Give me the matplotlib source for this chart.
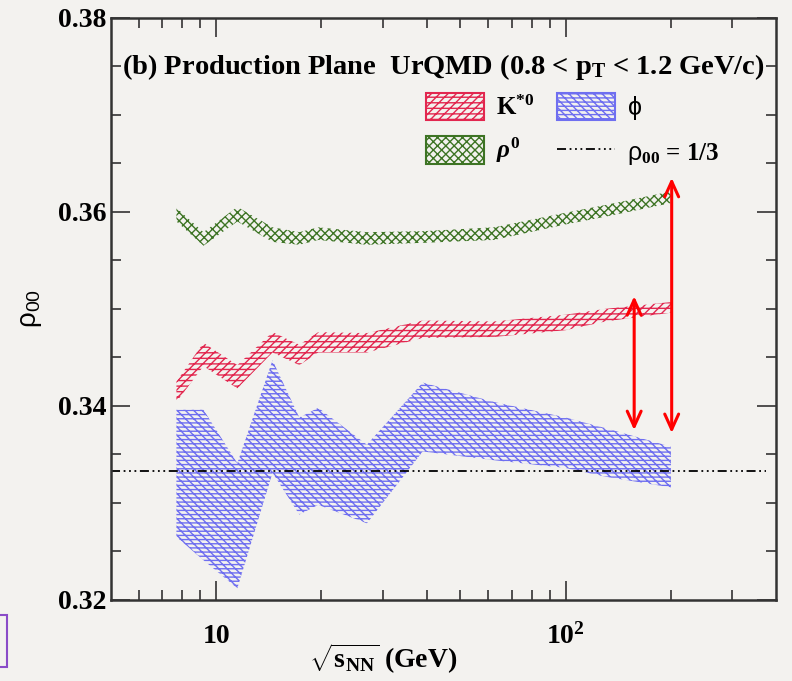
import numpy as np
import matplotlib
matplotlib.use("Agg")
import matplotlib.pyplot as plt
from matplotlib.patches import Patch, Rectangle
from matplotlib.lines import Line2D
from matplotlib.ticker import FixedLocator, FixedFormatter, NullFormatter

plt.rcParams['font.family'] = ['Liberation Serif', 'DejaVu Serif']
plt.rcParams['font.weight'] = 'bold'
plt.rcParams['mathtext.fontset'] = 'custom'
plt.rcParams['mathtext.rm'] = 'Liberation Serif:bold'
plt.rcParams['mathtext.bf'] = 'Liberation Serif:bold'
plt.rcParams['mathtext.it'] = 'Liberation Serif:italic:bold'
plt.rcParams['mathtext.sf'] = 'Liberation Sans:normal'
plt.rcParams['hatch.linewidth'] = 1.0

# UrQMD energies (GeV)
energy = [7.7, 9.2, 11.5, 14.5, 17.3, 19.6, 27, 39, 62.4, 100, 130, 200]

# rho_00 bands (upper / lower edge)
kstar_hi = [0.3425, 0.3465, 0.3442, 0.3476, 0.3463, 0.3476, 0.3475, 0.3488, 0.3487, 0.3494, 0.3500, 0.3507]
kstar_lo = [0.3404, 0.3441, 0.3418, 0.3455, 0.3442, 0.3455, 0.3455, 0.3470, 0.3471, 0.3478, 0.3487, 0.3496]

phi_hi = [0.3396, 0.3396, 0.3341, 0.3447, 0.3388, 0.3398, 0.3360, 0.3424, 0.3404, 0.3388, 0.3377, 0.3358]
phi_lo = [0.3265, 0.3241, 0.3212, 0.3331, 0.3288, 0.3298, 0.3279, 0.3353, 0.3344, 0.3336, 0.3327, 0.3316]

rho_hi = [0.3604, 0.3579, 0.3605, 0.3584, 0.3579, 0.3584, 0.3579, 0.3580, 0.3584, 0.3599, 0.3607, 0.3621]
rho_lo = [0.3590, 0.3565, 0.3590, 0.3569, 0.3566, 0.3571, 0.3566, 0.3568, 0.3571, 0.3587, 0.3595, 0.3609]

unpolarized = 1 / 3

# difference arrows: (energy, top, bottom)
arrow_kstar = (157, 0.3513, 0.3375)
arrow_rho = (201, 0.3635, 0.3372)

c_red = '#e2274f'
c_blue = '#6f6ff0'
c_green = '#3d7424'
bg = '#f3f2ef'
dashdot = (5, 2, 1, 2, 1, 2, 1, 2)

fig = plt.figure(figsize=(7.92, 6.81), dpi=100, facecolor=bg)
ax = fig.add_axes([0.140, 0.119, 0.840, 0.855])
ax.set_facecolor(bg)

ax.fill_between(energy, kstar_lo, kstar_hi, facecolor='none', edgecolor=c_red,
                hatch='////---', linewidth=0)
ax.fill_between(energy, rho_lo, rho_hi, facecolor='none', edgecolor=c_green,
                hatch='xxxx', linewidth=0)
ax.fill_between(energy, phi_lo, phi_hi, facecolor='none', edgecolor=c_blue,
                hatch='\\\\\\\\----', linewidth=0)

ax.axhline(unpolarized, xmin=0, xmax=0.985, color='black', lw=1.3, dashes=dashdot)

for xa, top, bot in (arrow_kstar, arrow_rho):
    ax.annotate('', xy=(xa, top), xytext=(xa, bot),
                arrowprops=dict(arrowstyle='<->,head_length=1.1,head_width=0.5',
                                color='red', lw=2.2, shrinkA=0, shrinkB=0))

ax.set_xscale('log')
ax.set_xlim(5, 400)
ax.set_ylim(0.32, 0.38)

ax.xaxis.set_major_locator(FixedLocator([10, 100]))
ax.xaxis.set_major_formatter(FixedFormatter(['10', r'$10^{2}$']))
ax.xaxis.set_minor_locator(FixedLocator([6, 7, 8, 9, 20, 30, 40, 50, 60, 70, 80, 90, 200, 300]))
ax.xaxis.set_minor_formatter(NullFormatter())
ax.set_yticks([0.32, 0.34, 0.36, 0.38])
ax.set_yticklabels(['0.32', '0.34', '0.36', '0.38'])
ax.set_yticks(np.arange(0.32, 0.38, 0.005), minor=True)

ax.tick_params(which='both', direction='in', top=True, right=True,
               width=1.2, color='#333333', labelsize=20)
ax.tick_params(which='major', length=14)
ax.tick_params(which='minor', length=7)
ax.tick_params(axis='x', pad=17)
ax.tick_params(axis='y', pad=3)
for s in ax.spines.values():
    s.set_linewidth(1.8)
    s.set_color('#333333')

ax.set_xlabel(r'$\sqrt{\mathrm{s_{NN}}}$ (GeV)', fontsize=20, fontweight='bold')
ax.xaxis.set_label_coords(0.41, -0.072)
ax.set_ylabel(r'$\mathsf{\rho_{00}}$', fontsize=20, fontweight='normal')
ax.yaxis.set_label_coords(-0.1, 0.5)

ax.text(0.017, 0.916, r'(b) Production Plane  UrQMD (0.8 < p$_{\mathrm{T}}$ < 1.2 GeV/c)',
        transform=ax.transAxes, fontsize=20.5, va='center', ha='left')

handles = [
    Patch(facecolor='none', edgecolor=c_red, hatch='////---', lw=1.5),
    Patch(facecolor='none', edgecolor=c_green, hatch='xxxx', lw=1.5),
    Patch(facecolor='none', edgecolor=c_blue, hatch='\\\\\\\\----', lw=1.5),
    Line2D([], [], color='black', lw=1.3, dashes=dashdot),
]
labels = [r'K$^{*0}$', r'$\rho^{0}$', r'$\mathsf{\phi}$', r'$\mathsf{\rho}_{00}$ = 1/3']
ax.legend(handles, labels, ncol=2, loc='upper left', bbox_to_anchor=(0.44, 0.91),
          frameon=False, fontsize=18, handlelength=2.3, handleheight=1.3,
          columnspacing=0.9, handletextpad=0.5, labelspacing=0.65)

# purple frame edge at the lower left
fig.add_artist(Rectangle((-0.01, 14 / 681), 0.019, 52 / 681, transform=fig.transFigure,
                         fill=False, edgecolor='#8a4cc8', lw=1.5))

fig.savefig('out.png', dpi=100, facecolor=bg)
